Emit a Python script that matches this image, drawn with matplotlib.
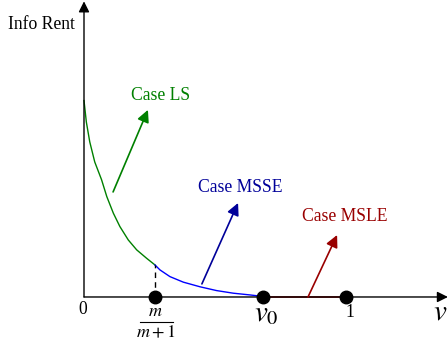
import matplotlib.pyplot as plt

plt.rcParams['font.family'] = ['Liberation Serif', 'DejaVu Serif']
plt.rcParams['mathtext.fontset'] = 'stix'

v_ls = [0.0, 0.009, 0.022, 0.041, 0.067, 0.087, 0.112, 0.137, 0.169, 0.201, 0.239, 0.271]
rent_ls = [0.675, 0.601, 0.533, 0.464, 0.403, 0.345, 0.288, 0.242, 0.196, 0.162, 0.133, 0.110]
v_msse = [0.271, 0.290, 0.328, 0.379, 0.443, 0.506, 0.570, 0.634, 0.672, 0.683]
rent_msse = [0.110, 0.093, 0.070, 0.051, 0.035, 0.022, 0.013, 0.007, 0.003, 0.0]
v_msle = [0.683, 1.0]
rent_msle = [0.0, 0.0]

# marked points on the v axis
v_marks = [0.271, 0.683, 1.0]

green = '#008000'
blue = '#0000ff'
navy = '#000099'
darkred = '#990000'

fig = plt.figure(figsize=(4.48, 3.45), dpi=100)
ax = fig.add_axes([0, 0, 1, 1])
ax.set_xlim(-0.3206, 1.3893)
ax.set_ylim(-0.165, 1.0206)
ax.axis('off')

# axes with arrow heads
ax.annotate('', xy=(1.389, 0.0), xytext=(0.0, 0.0),
            arrowprops=dict(arrowstyle='-|>', color='black', lw=1,
                            mutation_scale=16, shrinkA=0, shrinkB=0))
ax.annotate('', xy=(0.0, 1.016), xytext=(0.0, 0.0),
            arrowprops=dict(arrowstyle='-|>', color='black', lw=1,
                            mutation_scale=16, shrinkA=0, shrinkB=0))

ax.plot(v_ls, rent_ls, color=green, lw=1)
ax.plot(v_msse, rent_msse, color=blue, lw=1)
ax.plot(v_msle, rent_msle, color=darkred, lw=1.2)
ax.plot([v_ls[-1], v_ls[-1]], [0, rent_ls[-1]], color='black', lw=1, ls=(0, (4, 3)))
ax.plot(v_marks, [0] * len(v_marks), 'o', color='black', ms=9, zorder=5)

# case labels with pointers
arrow_kw = dict(arrowstyle='-|>', lw=1.2, mutation_scale=18, shrinkA=0, shrinkB=0)
ax.annotate('', xy=(0.244, 0.643), xytext=(0.111, 0.361),
            arrowprops=dict(color=green, **arrow_kw))
ax.annotate('', xy=(0.588, 0.323), xytext=(0.450, 0.045),
            arrowprops=dict(color=navy, **arrow_kw))
ax.annotate('', xy=(0.966, 0.213), xytext=(0.855, 0.0),
            arrowprops=dict(color=darkred, **arrow_kw))

fs = 12.7
ax.text(0.294, 0.694, 'Case LS', color=green, fontsize=fs, ha='center', va='center')
ax.text(0.595, 0.375, 'Case MSSE', color=navy, fontsize=fs, ha='center', va='center')
ax.text(0.996, 0.275, 'Case MSLE', color=darkred, fontsize=fs, ha='center', va='center')
ax.text(-0.290, 0.935, 'Info Rent', color='black', fontsize=fs, ha='left', va='center')

# tick labels
ax.text(-0.004, -0.044, '0', fontsize=fs, ha='center', va='center')
ax.text(1.015, -0.055, '1', fontsize=fs, ha='center', va='center')
ax.text(0.271, -0.050, r'$m$', fontsize=13, ha='center', va='center')
ax.plot([0.214, 0.340], [-0.086, -0.086], color='black', lw=0.8)
ax.text(0.275, -0.122, r'$m+1$', fontsize=13, ha='center', va='center')
ax.text(0.697, -0.060, r'$v_0$', fontsize=21, ha='center', va='center')
ax.text(1.36, -0.055, r'$v$', fontsize=21, ha='center', va='center')

fig.savefig('out.png', dpi=100)
